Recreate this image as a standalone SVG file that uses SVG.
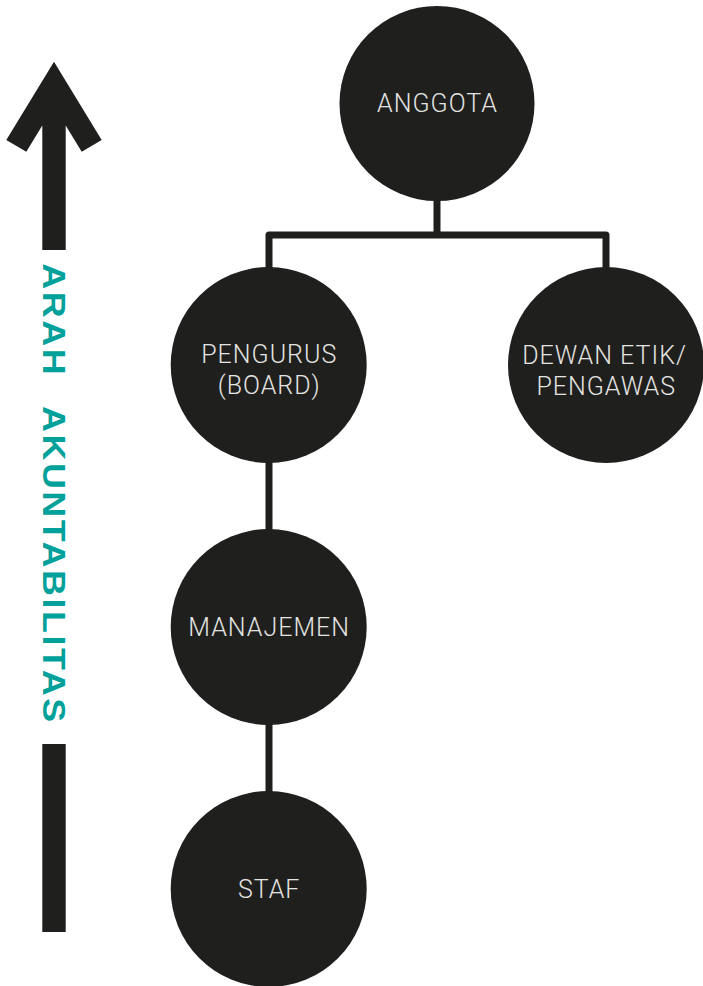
<svg xmlns="http://www.w3.org/2000/svg" width="703" height="986" viewBox="0 0 703 986">
<style>
.node{fill:#1f1f1d;}
.lbl{fill:#e4e4e2;font-family:Roboto,"Liberation Sans",sans-serif;font-weight:300;font-size:25px;letter-spacing:1px;text-anchor:middle;}
.conn{fill:none;stroke:#1f1f1d;stroke-width:7;stroke-linejoin:round;}
.axis{fill:#1f1f1d;}
.axislbl{fill:#00a19a;font-family:"Liberation Sans",Arial,sans-serif;font-weight:bold;font-size:32px;letter-spacing:2.3px;}
</style>
<rect width="703" height="986" fill="#ffffff"/>
<g id="axis">
<polygon class="axis" points="54,61.7 101.7,140 81.7,151.7 65.7,125.5 65.7,250 42.3,250 42.3,125.5 26.3,151.7 6.3,140"/>
<rect class="axis" x="42.3" y="744" width="23.4" height="188"/>
<text class="axislbl" transform="translate(42.8,0) rotate(90) scale(1.12,1)"><tspan x="235.1" y="0">ARAH</tspan> <tspan x="362.5" y="0">AKUNTABILITAS</tspan></text>
</g>
<g id="connectors">
<path class="conn" d="M437,200 V235"/>
<path class="conn" d="M269,268 V235 H606 V268"/>
<path class="conn" d="M269,462 V530"/>
<path class="conn" d="M269,724 V792"/>
</g>
<g id="anggota">
<circle class="node" cx="437" cy="103.5" r="97.5"/>
<text class="lbl" x="437.5" y="111.7">ANGGOTA</text>
</g>
<g id="pengurus">
<circle class="node" cx="268.7" cy="365" r="98"/>
<text class="lbl" x="269.2" y="363">PENGURUS</text>
<text class="lbl" x="269.2" y="394">(BOARD)</text>
</g>
<g id="dewan">
<circle class="node" cx="606" cy="365" r="98"/>
<text class="lbl" x="604.5" y="364">DEWAN ETIK/</text>
<text class="lbl" x="606.2" y="394.7">PENGAWAS</text>
</g>
<g id="manajemen">
<circle class="node" cx="268.7" cy="627" r="98"/>
<text class="lbl" x="269.2" y="636">MANAJEMEN</text>
</g>
<g id="staf">
<circle class="node" cx="268.7" cy="889" r="98"/>
<text class="lbl" x="269.2" y="898">STAF</text>
</g>
</svg>
